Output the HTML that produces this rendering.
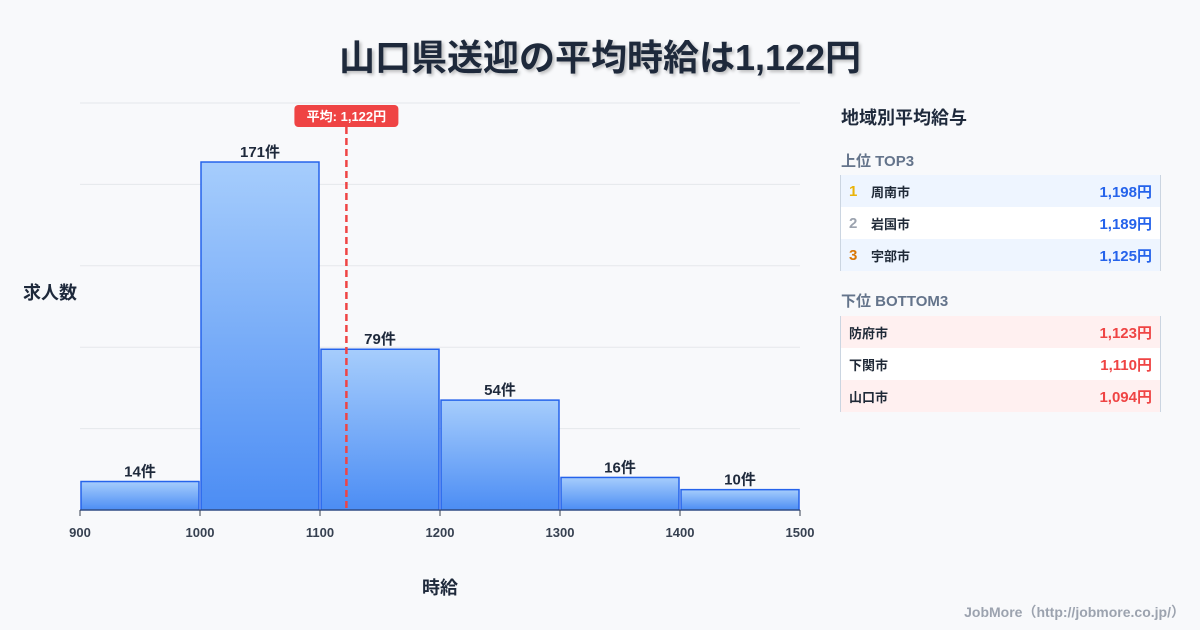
<!DOCTYPE html>
<html><head><meta charset="utf-8">
<style>
*{margin:0;padding:0;box-sizing:border-box}
body{width:1200px;height:630px;background:#f8f9fb;font-family:"Liberation Sans","Noto Sans CJK JP",sans-serif;position:relative;overflow:hidden;color:#1f2937}
.abs{position:absolute}
#title{left:0;width:1200px;top:29px;text-align:center;font-size:36px;font-weight:bold;color:#1e293b;text-shadow:2px 2px 3px rgba(0,0,0,0.25)}
.tbl{position:absolute;left:840px;width:321px;border-left:1px solid #cbd5e1;border-right:1px solid #cbd5e1}
.row{height:32px;display:flex;align-items:center;font-size:13px;font-weight:bold;position:relative}
.rank{width:30px;padding-left:8px;font-size:15px}
.val{position:absolute;right:8px;font-size:15px}
</style></head><body>
<div id="title" class="abs">山口県送迎の平均時給は1,122円</div>
<svg class="abs" style="left:0;top:0" width="830" height="630">
<defs><linearGradient id="g" x1="0" y1="0" x2="0" y2="1"><stop offset="0" stop-color="#a6cdfc"/><stop offset="1" stop-color="#4c8df4"/></linearGradient></defs>
<g id="grid"></g><g id="bars"></g><g id="xt"></g><g id="mean"></g>
<text x="50" y="299" text-anchor="middle" font-size="18" font-weight="bold" fill="#1e293b">求人数</text>
<text x="440" y="594" text-anchor="middle" font-size="18" font-weight="bold" fill="#1e293b">時給</text>
</svg>
<div class="abs" style="left:841px;top:104px;font-size:18px;font-weight:bold;color:#1e293b">地域別平均給与</div>
<div class="abs" style="left:841px;top:150px;font-size:15px;font-weight:bold;color:#64748b">上位 TOP3</div>
<div class="tbl" style="top:175px">
<div class="row" style="background:#eef5ff"><span class="rank" style="color:#eab308">1</span>周南市<span class="val" style="color:#2563eb">1,198円</span></div>
<div class="row" style="background:#fff"><span class="rank" style="color:#9ca3af">2</span>岩国市<span class="val" style="color:#2563eb">1,189円</span></div>
<div class="row" style="background:#eef5ff"><span class="rank" style="color:#d97706">3</span>宇部市<span class="val" style="color:#2563eb">1,125円</span></div>
</div>
<div class="abs" style="left:841px;top:290px;font-size:15px;font-weight:bold;color:#64748b">下位 BOTTOM3</div>
<div class="tbl" style="top:316px">
<div class="row" style="background:#fff0f0;padding-left:8px">防府市<span class="val" style="color:#ef4444">1,123円</span></div>
<div class="row" style="background:#fff;padding-left:8px">下関市<span class="val" style="color:#ef4444">1,110円</span></div>
<div class="row" style="background:#fff0f0;padding-left:8px">山口市<span class="val" style="color:#ef4444">1,094円</span></div>
</div>
<div class="abs" style="right:15px;top:602px;font-size:14px;font-weight:bold;color:#9ca3af">JobMore（http://jobmore.co.jp/）</div>
<script>
const binStarts=[900,1000,1100,1200,1300,1400];
const counts=[14,171,79,54,16,10];
const xTicks=[900,1000,1100,1200,1300,1400,1500];
const yTicks=[0,40,80,120,160,200];
const meanValue=1122;
const NS="http://www.w3.org/2000/svg";
const xs=v=>80+(v-900)*1.2;
const ys=v=>510-v*2.035;
function mk(t,a,p){const e=document.createElementNS(NS,t);for(const k in a)e.setAttribute(k,a[k]);p.appendChild(e);return e;}
const grid=document.getElementById('grid');
yTicks.forEach(t=>{const l=mk('line',{x1:80,x2:800,y1:ys(t),y2:ys(t),stroke:'#e5e7eb','stroke-width':1},grid);

});
const bars=document.getElementById('bars');
binStarts.forEach((b,i)=>{const x=xs(b)+1,w=xs(b+100)-xs(b)-2,y=ys(counts[i]);
const r=mk('rect',{x:x,y:y,width:w,height:510-y,fill:'url(#g)',stroke:'#2563eb','stroke-width':1.5},bars);


const t=mk('text',{x:x+w/2,y:y-5,'text-anchor':'middle','font-size':15,'font-weight':'bold',fill:'#1e293b'},bars);
t.textContent=counts[i]+'件';

});
const xt=document.getElementById('xt');
mk('line',{x1:80,x2:800,y1:510,y2:510,stroke:'#374151','stroke-width':1},xt);
xTicks.forEach(v=>{mk('line',{x1:xs(v),x2:xs(v),y1:510,y2:516,stroke:'#374151'},xt);
const t=mk('text',{x:xs(v),y:537,'text-anchor':'middle','font-size':13,'font-weight':'bold',fill:'#374151'},xt);
t.textContent=v;

});
const m=document.getElementById('mean');const mx=xs(meanValue);
const ml=mk('line',{x1:mx,x2:mx,y1:127,y2:510,stroke:'#ef4444','stroke-width':2.5,'stroke-dasharray':'7,4'},m);


const mb=mk('rect',{x:mx-52,y:105,width:104,height:22,rx:4,fill:'#ef4444'},m);


const mt=mk('text',{x:mx,y:121,'text-anchor':'middle','font-size':13,'font-weight':'bold',fill:'#fff'},m);
mt.textContent='平均: 1,122円';


</script>
</body></html>
